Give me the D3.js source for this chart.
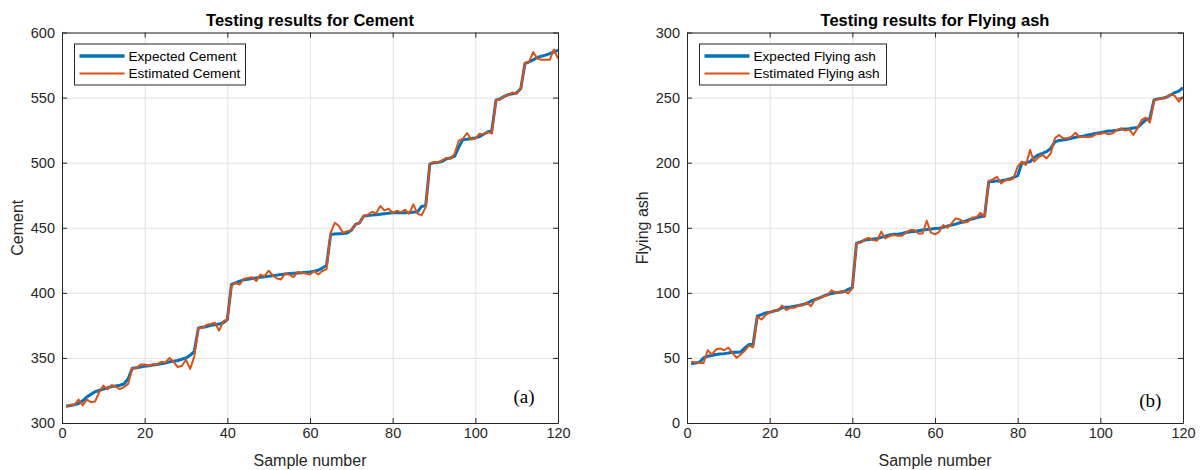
<!DOCTYPE html>
<html>
<head>
<meta charset="utf-8">
<script src="https://cdn.jsdelivr.net/npm/d3@7"></script>
<style>
  body { margin: 0; background: #fff; }
  svg { display: block; font-family: "Liberation Sans", Arial, Helvetica, sans-serif; }
</style>
</head>
<body>
<div id="charts"></div>
<script>
// sample index 1..120
const samples = [
  1, 2, 3, 4, 5, 6, 7, 8, 9, 10, 11, 12, 13, 14, 15, 16, 17, 18, 19, 20,
  21, 22, 23, 24, 25, 26, 27, 28, 29, 30, 31, 32, 33, 34, 35, 36, 37, 38, 39, 40,
  41, 42, 43, 44, 45, 46, 47, 48, 49, 50, 51, 52, 53, 54, 55, 56, 57, 58, 59, 60,
  61, 62, 63, 64, 65, 66, 67, 68, 69, 70, 71, 72, 73, 74, 75, 76, 77, 78, 79, 80,
  81, 82, 83, 84, 85, 86, 87, 88, 89, 90, 91, 92, 93, 94, 95, 96, 97, 98, 99, 100,
  101, 102, 103, 104, 105, 106, 107, 108, 109, 110, 111, 112, 113, 114, 115, 116, 117, 118, 119, 120
];

const cementExpected = [
  312.8, 313.5, 314, 315, 317, 320, 322, 324, 325, 326, 327, 328, 328.5, 329, 330, 334, 342, 342.5, 343, 343.5,
  344, 344.5, 345, 345.5, 346, 347, 347.5, 348, 349, 350, 352, 355, 373, 373.5, 374, 375, 375.5, 376, 377, 379.5,
  406.4, 407.7, 409, 410, 410.5, 411, 411.5, 412, 412.4, 412.8, 413.2, 413.6, 414, 414.5, 414.9, 415.1, 415.3, 415.5, 415.8, 416,
  416.7, 417.4, 419, 421, 444.9, 445.2, 445.4, 445.6, 446, 448, 452.6, 453.8, 459, 459.4, 459.7, 460, 460.4, 460.8, 461.2, 461.5,
  461.5, 461.5, 461.6, 461.8, 462, 462.2, 466.4, 467, 499, 500, 500.2, 501, 503, 503.6, 505, 512, 517.7, 518, 518.5, 519,
  520, 521.8, 523.6, 525, 548, 549, 551, 552.3, 553, 553.6, 557, 576, 577.4, 579, 580.8, 581.8, 582.6, 583.8, 585, 586.4
];
const cementEstimated = [
  312.3, 314, 314, 318, 313.5, 318, 316, 316.5, 323.6, 328.7, 326, 329, 328, 326, 327.5, 330, 342, 342, 345, 345,
  344, 345, 345, 347, 346.5, 350, 347, 343, 344, 348.5, 341.6, 351, 373, 373, 375.5, 376, 377, 371, 378, 379.5,
  405.6, 407.7, 406.4, 410.8, 411.5, 412, 409, 414, 412.8, 417, 413.3, 411, 410.3, 414.9, 414, 412, 416, 415.4, 414.9, 414,
  416.7, 414, 416.7, 418, 446, 453.8, 451.3, 446, 447.4, 448, 452.6, 453.8, 459, 460, 462.3, 461, 466.7, 463.3, 464.6, 461.5,
  463, 462, 463.8, 460.8, 468, 460.8, 459.5, 466, 499, 500.5, 500, 502, 503.6, 503, 507, 517, 518.5, 522.8, 517.7, 518.5,
  522.3, 521.8, 523.6, 522.3, 548, 548.5, 551.3, 551.8, 554, 553, 557, 576.7, 577.4, 585, 580, 579, 579, 579, 587, 580
];

const ashExpected = [
  45.6, 46, 46.7, 50, 51.3, 51.8, 52.6, 53, 53.3, 53.8, 54.4, 54.4, 54.6, 57.7, 60.3, 60.5, 82, 83.3, 84.6, 85,
  86, 86.7, 88.5, 89, 89.2, 89.7, 90.3, 91, 91.8, 93.6, 94.9, 96, 97.4, 98.7, 99.5, 100, 100.5, 101, 102.6, 104,
  138, 139.2, 140.5, 141, 141.3, 141.8, 142.6, 143.6, 144.4, 145, 145.1, 145.6, 146.4, 147, 147.2, 147.7, 148.2, 148.7, 149, 149.5,
  149.6, 150.3, 151.3, 152, 152.8, 153.8, 154.6, 155.9, 156.7, 157.7, 158.5, 159, 185.4, 185.5, 186, 186.2, 186.7, 187.4, 188.7, 190,
  199.5, 200, 200.8, 204, 206, 207.2, 208.5, 211, 216, 217, 217.4, 218, 218.7, 219.5, 220, 220.5, 221.3, 221.8, 222.6, 223,
  223.8, 224.4, 224.6, 225, 225.6, 225.9, 226, 226.7, 227, 230, 232.8, 234, 248.2, 249, 249.5, 250.3, 252, 253.8, 255, 257.7
];
const ashEstimated = [
  47, 46.7, 46, 46, 55.9, 52.6, 56.4, 57.2, 55.9, 58, 53.8, 50, 52.6, 55.6, 59.5, 58.2, 81.5, 79.5, 82.8, 85,
  86.4, 86.4, 90.3, 86.7, 88.5, 88.5, 90.3, 90.3, 92.8, 89.7, 94.9, 96, 97.4, 98.2, 102, 100, 100.8, 101.3, 99.5, 103.5,
  138, 138.5, 141, 142.3, 140.5, 140, 147, 141.8, 143.6, 144.4, 143.8, 143.8, 146.4, 148.2, 148.2, 145.6, 145.6, 155.4, 146.2, 144.9,
  146.9, 152, 150, 153.3, 157.2, 156.4, 154.1, 154.6, 157.9, 157.9, 161.5, 158.5, 185.9, 187.2, 189.2, 184.1, 186.7, 186.7, 188, 196.9,
  200.8, 198.2, 209.7, 200.8, 204, 206, 203.3, 207.2, 218.7, 221.3, 218.7, 218.7, 220, 223, 219.5, 220, 219.5, 220, 222, 222,
  223, 221.8, 222.6, 225, 226.4, 224.6, 225.6, 221.3, 226.4, 232.8, 234.6, 230.8, 247.7, 248.7, 249.5, 250.3, 252.6, 251.3, 246.9, 250.8
];

const xTicks = [0, 20, 40, 60, 80, 100, 120];
const cementTicks = [300, 350, 400, 450, 500, 550, 600];
const ashTicks = [0, 50, 100, 150, 200, 250, 300];

const svgWidth = 1203, svgHeight = 470;
const axisColor = '#262626';

const svg = d3
  .select('#charts')
  .append('svg')
  .attr('width', svgWidth)
  .attr('height', svgHeight);

renderChart({
  left: 62,
  title: 'Testing results for Cement',
  yLabel: 'Cement',
  yTicks: cementTicks,
  expected: cementExpected,
  estimated: cementEstimated,
  legendNames: ['Expected Cement', 'Estimated Cement'],
  legendWidth: 171,
  tag: '(a)',
  tagPos: [111.8, 315],
});

renderChart({
  left: 687,
  title: 'Testing results for Flying ash',
  yLabel: 'Flying ash',
  yTicks: ashTicks,
  expected: ashExpected,
  estimated: ashEstimated,
  legendNames: ['Expected Flying ash', 'Estimated Flying ash'],
  legendWidth: 187,
  tag: '(b)',
  tagPos: [112.1, 12.5],
});

function renderChart(cfg) {
  const margin = { top: 32.5 };
  const width = 496, height = 390.5;

  const g = svg
    .append('g')
    .attr('transform', `translate(${cfg.left},${margin.top})`);

  const x = d3.scaleLinear().domain([0, 120]).range([0, width]);
  const y = d3
    .scaleLinear()
    .domain([cfg.yTicks[0], cfg.yTicks[cfg.yTicks.length - 1]])
    .range([height, 0]);

  // grid lines
  const gx = g
    .append('g')
    .attr('transform', `translate(0,${height})`)
    .call(d3.axisBottom(x).tickValues(xTicks).tickSize(-height).tickFormat(''));
  const gy = g
    .append('g')
    .call(d3.axisLeft(y).tickValues(cfg.yTicks).tickSize(-width).tickFormat(''));
  [gx, gy].forEach((a) => {
    a.select('.domain').remove();
    a.selectAll('line').attr('stroke', '#e1e1e1').attr('stroke-width', 1);
  });

  // series
  const line = d3
    .line()
    .x((d, i) => x(samples[i]))
    .y((d) => y(d));

  g.append('path')
    .datum(cfg.expected)
    .attr('fill', 'none')
    .attr('stroke', '#0072BD')
    .attr('stroke-width', 3)
    .attr('stroke-linejoin', 'round')
    .attr('d', line);

  g.append('path')
    .datum(cfg.estimated)
    .attr('fill', 'none')
    .attr('stroke', '#D95319')
    .attr('stroke-width', 2)
    .attr('stroke-linejoin', 'round')
    .attr('d', line);

  // axes, ticks pointing inward on all four sides
  const axes = [
    g.append('g')
      .attr('transform', `translate(0,${height})`)
      .call(d3.axisBottom(x).tickValues(xTicks).tickSizeInner(-5).tickSizeOuter(0).tickPadding(5)),
    g.append('g')
      .call(d3.axisLeft(y).tickValues(cfg.yTicks).tickSizeInner(-5).tickSizeOuter(0).tickPadding(7)),
    g.append('g')
      .call(d3.axisTop(x).tickValues(xTicks).tickSizeInner(-5).tickSizeOuter(0).tickFormat('')),
    g.append('g')
      .attr('transform', `translate(${width},0)`)
      .call(d3.axisRight(y).tickValues(cfg.yTicks).tickSizeInner(-5).tickSizeOuter(0).tickFormat('')),
  ];
  axes.forEach((a) => {
    a.select('.domain').attr('stroke', axisColor).attr('stroke-width', 1);
    a.selectAll('line').attr('stroke', axisColor);
    a.selectAll('text')
      .attr('fill', axisColor)
      .style('font-size', '14.5px')
      .style('font-family', '"Liberation Sans", Arial, sans-serif');
  });

  // title
  g.append('text')
    .attr('x', width / 2)
    .attr('y', 26 - margin.top)
    .attr('text-anchor', 'middle')
    .attr('fill', '#000')
    .style('font-size', '16.5px')
    .style('font-weight', 'bold')
    .text(cfg.title);

  // axis labels
  g.append('text')
    .attr('x', width / 2)
    .attr('y', 465.5 - margin.top)
    .attr('text-anchor', 'middle')
    .attr('fill', axisColor)
    .style('font-size', '16px')
    .text('Sample number');

  g.append('text')
    .attr('transform', `translate(-38.7,${height / 2}) rotate(-90)`)
    .attr('text-anchor', 'middle')
    .attr('fill', axisColor)
    .style('font-size', '16px')
    .text(cfg.yLabel);

  // legend
  const legend = g.append('g').attr('transform', 'translate(12.5,11.5)');
  legend
    .append('rect')
    .attr('width', cfg.legendWidth)
    .attr('height', 41)
    .attr('fill', '#fff')
    .attr('stroke', axisColor)
    .attr('stroke-width', 1);
  const items = [
    { name: cfg.legendNames[0], color: '#0072BD', w: 3.5 },
    { name: cfg.legendNames[1], color: '#D95319', w: 2.2 },
  ];
  items.forEach((d, i) => {
    const yy = 12 + i * 17.5;
    legend
      .append('line')
      .attr('x1', 5)
      .attr('x2', 50)
      .attr('y1', yy)
      .attr('y2', yy)
      .attr('stroke', d.color)
      .attr('stroke-width', d.w);
    legend
      .append('text')
      .attr('x', 54)
      .attr('y', yy)
      .attr('dy', '0.35em')
      .attr('fill', '#000')
      .style('font-size', '13.6px')
      .text(d.name);
  });

  // panel tag
  g.append('text')
    .attr('x', x(cfg.tagPos[0]))
    .attr('y', y(cfg.tagPos[1]))
    .attr('text-anchor', 'middle')
    .attr('fill', '#000')
    .style('font-family', '"Liberation Serif", "Times New Roman", serif')
    .style('font-size', '19px')
    .text(cfg.tag);
}
</script>
</body>
</html>
